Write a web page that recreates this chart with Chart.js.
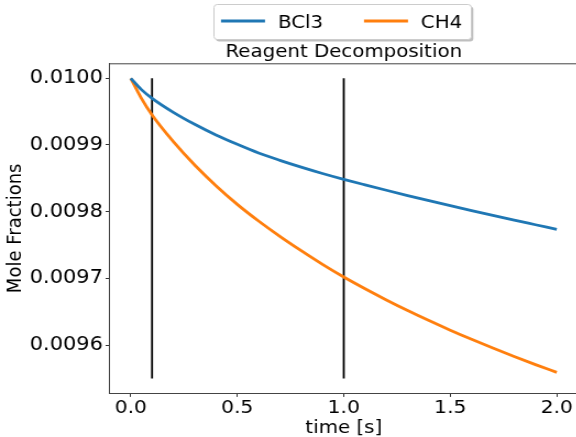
<!DOCTYPE html>
<html>
<head>
<meta charset="utf-8">
<script src="https://cdn.jsdelivr.net/npm/chart.js@4/dist/chart.umd.min.js"></script>
<style>
  html, body { margin: 0; padding: 0; width: 576px; height: 437px; overflow: hidden; background: #fff; }
  #wrap { position: absolute; left: 0; top: 0; width: 540px; height: 437px; transform: scaleX(1.1); transform-origin: 0 0; }
</style>
</head>
<body>
<div id="wrap"><canvas id="c"></canvas></div>
<script>
// ---- data ----
const times = [0, 0.05, 0.1, 0.2, 0.3, 0.4, 0.5, 0.6, 0.7, 0.8, 0.9, 1.0, 1.1, 1.2, 1.3, 1.4, 1.5, 1.6, 1.7, 1.8, 1.9, 2.0];
const bcl3 = [0.0100000, 0.0099830, 0.0099700, 0.0099490, 0.0099310, 0.0099150, 0.0099010, 0.0098880, 0.0098770, 0.0098668, 0.0098573,
              0.0098485, 0.0098402, 0.0098321, 0.0098242, 0.0098165, 0.0098090, 0.0098016, 0.0097944, 0.0097873, 0.0097804, 0.0097735];
const ch4  = [0.0100000, 0.0099700, 0.0099450, 0.0099050, 0.0098700, 0.0098390, 0.0098110, 0.0097860, 0.0097630, 0.0097415, 0.0097210,
              0.0097020, 0.0096844, 0.0096677, 0.0096518, 0.0096367, 0.0096223, 0.0096086, 0.0095955, 0.0095829, 0.0095707, 0.0095590];
const seriesLabels = ['BCl3', 'CH4'];
const markerTimes = [0.1, 1.0];
const markerRange = [0.00955, 0.0100];
const xTicks = [0, 0.5, 1.0, 1.5, 2.0];
const yTicks = [0.0096, 0.0097, 0.0098, 0.0099, 0.0100];

const FONT = 'DejaVu Sans';
const BLUE = '#1f77b4', ORANGE = '#ff7f0e';

const curve = (ys) => times.map((t, i) => ({ x: t, y: ys[i] }));
const datasets = [
  { label: seriesLabels[0], data: curve(bcl3), borderColor: BLUE, borderWidth: 2.8, pointRadius: 0, cubicInterpolationMode: 'monotone', fill: false },
  { label: seriesLabels[1], data: curve(ch4), borderColor: ORANGE, borderWidth: 2.8, pointRadius: 0, cubicInterpolationMode: 'monotone', fill: false }
];
markerTimes.forEach(t => datasets.push({
  label: '_marker', data: markerRange.map(v => ({ x: t, y: v })),
  borderColor: '#000', borderWidth: 1.8, pointRadius: 0, fill: false, borderCapStyle: 'butt'
}));

const framePlugin = {
  id: 'frameAndLegend',
  afterDatasetsDraw(chart) {
    const { ctx, chartArea: a } = chart;
    ctx.save();
    ctx.strokeStyle = '#444';
    ctx.lineWidth = 1;
    ctx.beginPath();
    ctx.moveTo(a.left, a.top + 0.5);
    ctx.lineTo(a.right, a.top + 0.5);
    ctx.stroke();
    ctx.restore();
  },
  afterDraw(chart) {
    const { ctx } = chart;
    ctx.save();
    const bx = 194.5, by = 4.5, bw = 234, bh = 35, r = 3;
    const rr = (x, y) => { ctx.beginPath(); ctx.roundRect(x, y, bw, bh, r); };
    rr(bx + 1.8, by + 2);
    ctx.fillStyle = 'rgba(128,128,128,0.5)';
    ctx.fill();
    rr(bx, by);
    ctx.fillStyle = '#fff';
    ctx.fill();
    ctx.strokeStyle = '#cccccc';
    ctx.lineWidth = 1;
    ctx.stroke();
    const items = [
      { x0: 200.9, tx: 252.7 },
      { x0: 330.9, tx: 382.6 }
    ];
    ctx.font = `18px "${FONT}"`;
    ctx.textBaseline = 'alphabetic';
    ctx.textAlign = 'left';
    items.forEach((it, i) => {
      const ds = chart.data.datasets[i];
      ctx.strokeStyle = ds.borderColor;
      ctx.lineWidth = 2.8;
      ctx.beginPath();
      ctx.moveTo(it.x0, 21);
      ctx.lineTo(it.x0 + 40, 21);
      ctx.stroke();
      ctx.fillStyle = '#000';
      ctx.fillText(ds.label, it.tx, 27.7);
    });
    ctx.restore();
  }
};

new Chart(document.getElementById('c'), {
  type: 'line',
  data: { datasets },
  plugins: [framePlugin],
  options: {
    responsive: true,
    maintainAspectRatio: false,
    animation: false,
    layout: { padding: { top: 41.7, left: 3.4, right: 14.5, bottom: 0 } },
    plugins: {
      legend: { display: false },
      tooltip: { enabled: false },
      title: {
        display: true, text: 'Reagent Decomposition', fullSize: false,
        color: '#000', font: { family: FONT, size: 18, weight: 'normal', lineHeight: 1.2 },
        padding: { top: 0, bottom: 0 }
      }
    },
    scales: {
      x: {
        type: 'linear', min: -0.1, max: 2.1,
        afterBuildTicks: s => { s.ticks = xTicks.map(v => ({ value: v })); },
        afterFit: s => { s.height = 43.6; },
        ticks: { color: '#000', font: { family: FONT, size: 18.5 }, padding: 0.5, maxRotation: 0, autoSkip: false,
                 callback: v => Number(v).toFixed(1) },
        grid: { drawOnChartArea: false, drawTicks: true, tickLength: 3.5, color: '#333', lineWidth: 1 },
        border: { display: true, color: '#444', width: 1 },
        title: { display: true, text: 'time [s]', color: '#000', font: { family: FONT, size: 18, lineHeight: 1 }, padding: 0 }
      },
      y: {
        type: 'linear', min: 0.0095275, max: 0.0100225,
        afterBuildTicks: s => { s.ticks = yTicks.map(v => ({ value: v })); },
        afterFit: s => { s.width = 96.1; },
        ticks: { color: '#000', font: { family: FONT, size: 19 }, padding: 2.5, autoSkip: false,
                 callback: v => Number(v).toFixed(4) },
        grid: { drawOnChartArea: false, drawTicks: true, tickLength: 3.5, color: '#333', lineWidth: 1 },
        border: { display: true, color: '#444', width: 1 },
        title: { display: true, text: 'Mole Fractions', color: '#000', font: { family: FONT, size: 18, lineHeight: 1.2 }, padding: { top: 0, bottom: 0 } }
      }
    }
  }
});
</script>
</body>
</html>
